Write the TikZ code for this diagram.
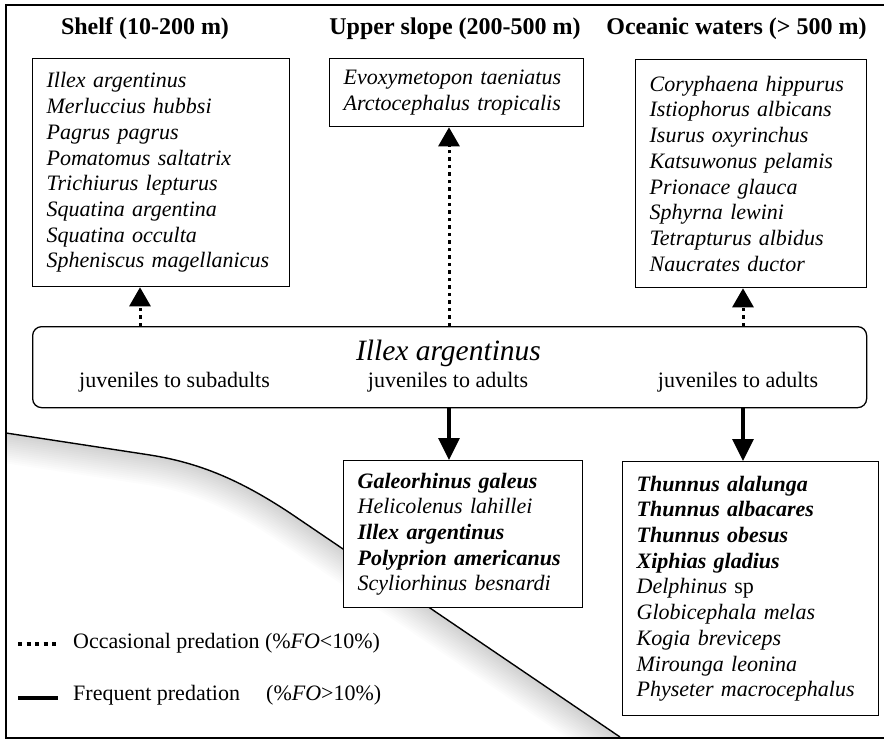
\documentclass[tikz,border=0pt]{standalone}
\usepackage{fontspec}
\setmainfont{Liberation Serif}
\usetikzlibrary{arrows.meta}
\begin{document}
\begin{tikzpicture}[x=1pt,y=-1pt,
  listbox/.style={draw, line width=1.3pt, fill=white, anchor=north west, align=left,
     inner xsep=14pt, inner ysep=0pt, font=\fontsize{22}{25.7}\selectfont\itshape},
  title/.style={font=\fontsize{24}{28}\selectfont\bfseries, anchor=base},
  sub/.style={font=\fontsize{22}{26}\selectfont, anchor=base},
  occ/.style={line width=3pt, dash pattern=on 3.5pt off 4pt, -{Triangle[length=19pt,width=21pt]}},
  freq/.style={line width=3.3pt, -{Triangle[length=22pt,width=21pt]}}]
\useasboundingbox (0,0) rectangle (884,741);
% frame
\draw[line width=1.6pt] (884,5) -- (6,5) -- (6,738) -- (884,738);
% sea floor shading
\begin{scope}
  \clip (6,5) rectangle (884,738);
  \clip (-20,429) -- (150,455) .. controls (200,463) and (240,480) .. (290,513) -- (635,748) -- (-20,748) -- cycle;
  \foreach \i in {1,...,15}
    \draw[line width=4*\i pt, black, opacity=0.01] (-20,429) -- (150,455) .. controls (200,463) and (240,480) .. (290,513) -- (635,748);
\end{scope}
\draw[line width=1.4pt] (6,433) -- (150,455) .. controls (200,463) and (240,480) .. (290,513) -- (620,737);
% titles
\node[title] (tshelf) at (145,35) {Shelf (10-200 m)};
\node[title] (tslope) at (455,35) {Upper slope (200-500 m)};
\node[title] (tocean) at (736.5,35) {Oceanic waters (> 500 m)};
% upper boxes
\node[listbox, text width=229pt, minimum height=228pt] (shelf) at (32,58)
 {Illex argentinus\\ Merluccius hubbsi\\ Pagrus pagrus\\ Pomatomus saltatrix\\ Trichiurus lepturus\\ Squatina argentina\\ Squatina occulta\\ Spheniscus magellanicus};
\node[listbox, text width=226pt, minimum height=68pt] (slope) at (329,58)
 {Evoxymetopon taeniatus\\ Arctocephalus tropicalis};
\node[listbox, text width=203pt, minimum height=228pt] (ocean) at (635,59)
 {Coryphaena hippurus\\ Istiophorus albicans\\ Isurus oxyrinchus\\ Katsuwonus pelamis\\ Prionace glauca\\ Sphyrna lewini\\ Tetrapturus albidus\\ Naucrates ductor};
% main box
\node[draw, line width=1.3pt, rounded corners=9pt, fill=white, anchor=north west,
      minimum width=834pt, minimum height=81pt] (main) at (32,326) {};
\node[font=\fontsize{29.5}{34}\selectfont\itshape, anchor=base] (illex) at (448.5,360) {Illex argentinus};
\node[sub] (s1) at (174.5,387) {juveniles to subadults};
\node[sub] (s2) at (448,387) {juveniles to adults};
\node[sub] (s3) at (738,387) {juveniles to adults};
% lower boxes
\node[listbox, text width=211pt, minimum height=147pt] (mid) at (343,460)
 {\textbf{Galeorhinus galeus}\\ Helicolenus lahillei\\ \textbf{Illex argentinus}\\ \textbf{Polyprion americanus}\\ Scyliorhinus besnardi};
\node[listbox, text width=228pt, minimum height=254pt] (deep) at (622,461)
 {\textbf{Thunnus alalunga}\\ \textbf{Thunnus albacares}\\ \textbf{Thunnus obesus}\\ \textbf{Xiphias gladius}\\ Delphinus \textup{sp}\\ Globicephala melas\\ Kogia breviceps\\ Mirounga leonina\\ Physeter macrocephalus};
% arrows
\coordinate (ax1) at (140,0);
\coordinate (ax2) at (449,0);
\coordinate (ax3) at (743,0);
\draw[occ] (main.north -| ax1) -- (shelf.south -| ax1);
\draw[occ] (main.north -| ax2) -- (slope.south -| ax2);
\draw[occ] (main.north -| ax3) -- (ocean.south -| ax3);
\draw[freq] (main.south -| ax2) -- (mid.north -| ax2);
\draw[freq] (main.south -| ax3) -- (deep.north -| ax3);
% legend
\coordinate (ld1) at (18,644);
\coordinate (ld2) at (58,644);
\coordinate (ls1) at (18,698);
\coordinate (ls2) at (58,698);
\draw[line width=4pt, dash pattern=on 4pt off 4.5pt] (ld1) -- (ld2);
\draw[line width=3.8pt] (ls1) -- (ls2);
\node[font=\fontsize{22}{26}\selectfont, anchor=base west, inner sep=0pt] (locc) at (73,648) {Occasional predation (\%\textit{FO}<10\%)};
\node[font=\fontsize{22}{26}\selectfont, anchor=base west, inner sep=0pt] (lfreq) at (73,700) {Frequent predation};
\node[font=\fontsize{22}{26}\selectfont, anchor=base west, inner sep=0pt] (lfreq2) at (266,700) {(\%\textit{FO}>10\%)};
\end{tikzpicture}
\end{document}
